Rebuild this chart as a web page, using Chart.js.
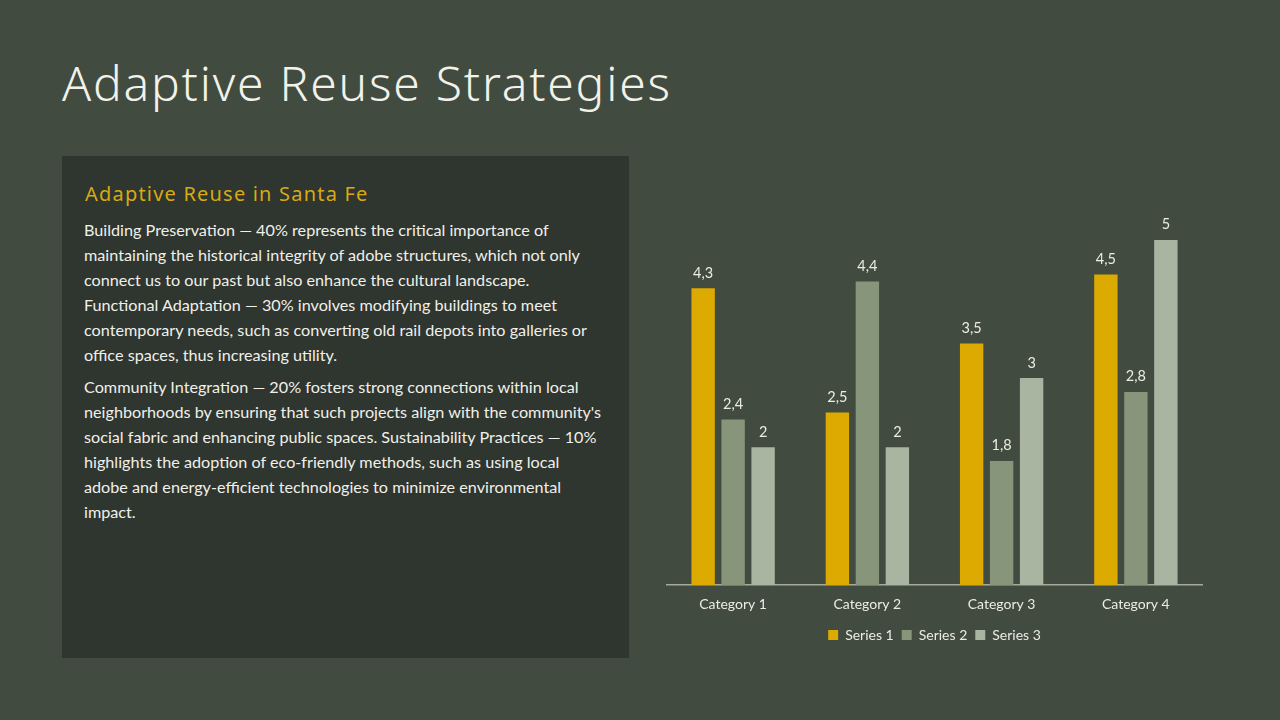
<!DOCTYPE html>
<html>
<head>
<meta charset="utf-8">
<script src="https://cdn.jsdelivr.net/npm/chart.js@4"></script>
<style>
  html, body { margin: 0; padding: 0; }
  body { width: 1280px; height: 720px; background: #414b40; position: relative; overflow: hidden; font-family: Lato, "Open Sans", sans-serif; }
  h1 { position: absolute; left: 62px; top: 50px; margin: 0; font-family: "Noto Sans", sans-serif; font-weight: 300; font-size: 48px; color: #f2f2ea; letter-spacing: 1.8px; white-space: nowrap; }
  .panel { position: absolute; left: 62px; top: 156px; width: 567px; height: 502px; background: #2f352f; }
  .panel h2 { position: absolute; left: 23px; top: 24px; margin: 0; font-family: "Noto Sans", sans-serif; font-weight: 400; font-size: 20px; color: #d8aa12; letter-spacing: 1.2px; white-space: nowrap; }
  .panel .txt { position: absolute; left: 22px; top: 61px; width: 545px; font-size: 16.2px; line-height: 25px; color: #f0f0ea; white-space: nowrap; }
  .panel p { margin: 0 0 7px 0; }
  #chartBox { position: absolute; left: 666px; top: 150px; width: 537px; height: 502px; }
</style>
</head>
<body>
<h1>Adaptive Reuse Strategies</h1>
<div class="panel">
  <h2>Adaptive Reuse in Santa Fe</h2>
  <div class="txt">
    <p>Building Preservation — 40% represents the critical importance of<br>maintaining the historical integrity of adobe structures, which not only<br>connect us to our past but also enhance the cultural landscape.<br>Functional Adaptation — 30% involves modifying buildings to meet<br>contemporary needs, such as converting old rail depots into galleries or<br>office spaces, thus increasing utility.</p>
    <p>Community Integration — 20% fosters strong connections within local<br>neighborhoods by ensuring that such projects align with the community's<br>social fabric and enhancing public spaces. Sustainability Practices — 10%<br>highlights the adoption of eco-friendly methods, such as using local<br>adobe and energy-efficient technologies to minimize environmental<br>impact.</p>
  </div>
</div>
<div id="chartBox"><canvas id="grafico"></canvas></div>
<script>
const categorias = ['Category 1', 'Category 2', 'Category 3', 'Category 4'];
const serie1 = [4.3, 2.5, 3.5, 4.5];
const serie2 = [2.4, 4.4, 1.8, 2.8];
const serie3 = [2, 2, 3, 5];
const nombresSeries = ['Series 1', 'Series 2', 'Series 3'];
const colores = ['#dcaa00', '#87957a', '#a9b4a1'];

// etiquetas de valor encima de cada barra, con coma decimal
const etiquetasValor = {
    id: 'etiquetasValor',
    afterDatasetsDraw(chart) {
        const ctx = chart.ctx;
        ctx.save();
        ctx.font = '14.5px Lato, "Open Sans", sans-serif';
        ctx.fillStyle = '#ecece4';
        ctx.textAlign = 'center';
        ctx.textBaseline = 'bottom';
        chart.data.datasets.forEach((ds, i) => {
            chart.getDatasetMeta(i).data.forEach((bar, j) => {
                ctx.fillText(String(ds.data[j]).replace('.', ','), bar.x, bar.y - 8);
            });
        });
        ctx.restore();
    }
};

const ctx = document.getElementById('grafico').getContext('2d');
new Chart(ctx, {
    type: 'bar',
    data: {
        labels: categorias,
        datasets: [serie1, serie2, serie3].map((d, i) => ({
            label: nombresSeries[i],
            data: d,
            backgroundColor: colores[i],
            borderWidth: 0,
            barPercentage: 0.78,
            categoryPercentage: 0.67
        }))
    },
    options: {
        responsive: true,
        maintainAspectRatio: false,
        animation: false,
        layout: { padding: { top: 21 } },
        plugins: {
            tooltip: { enabled: false },
            legend: {
                position: 'bottom',
                labels: {
                    color: '#ecece4',
                    font: { size: 14, family: 'Lato, "Open Sans", sans-serif' },
                    boxWidth: 10,
                    boxHeight: 10,
                    padding: 8
                }
            }
        },
        scales: {
            x: {
                grid: { display: false },
                border: { display: true, color: '#a3ab9c', width: 1.5 },
                ticks: { color: '#ecece4', font: { size: 14, family: 'Lato, "Open Sans", sans-serif' }, padding: 3 },
                afterFit(scale) { scale.height += 4; }
            },
            y: { display: false, min: 0, max: 6 }
        }
    },
    plugins: [etiquetasValor]
});
</script>
</body>
</html>
